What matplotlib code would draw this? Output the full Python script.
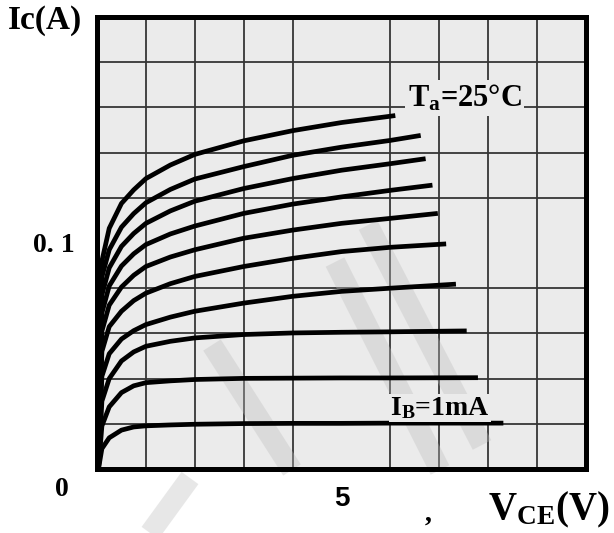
import matplotlib
matplotlib.use("Agg")
import matplotlib.pyplot as plt

plt.rcParams['mathtext.fontset'] = 'custom'
plt.rcParams['mathtext.rm'] = 'Liberation Serif:bold'
plt.rcParams['mathtext.bf'] = 'Liberation Serif:bold'
plt.rcParams['mathtext.it'] = 'Liberation Serif:bold'

# sample voltages (V), shared by all curves
vce = [0.03, 0.1, 0.25, 0.5, 0.75, 1, 1.5, 2, 3, 4, 5, 6]

# collector current (A) per base-current step, top curve first
ic_curves = [
    [0, 0.092, 0.1065, 0.1175, 0.1235, 0.1285, 0.1345, 0.1392, 0.1452, 0.1497, 0.1533, 0.1561],
    [0, 0.085, 0.0970, 0.1070, 0.1130, 0.1178, 0.1237, 0.1283, 0.1338, 0.1388, 0.1424, 0.1454],
    [0, 0.077, 0.0890, 0.0985, 0.1042, 0.1087, 0.1142, 0.1185, 0.1241, 0.1285, 0.1322, 0.1351],
    [0, 0.069, 0.0810, 0.0898, 0.0952, 0.0993, 0.1040, 0.1075, 0.1131, 0.1172, 0.1204, 0.1233],
    [0, 0.061, 0.0725, 0.0805, 0.0857, 0.0896, 0.0938, 0.0970, 0.1021, 0.1057, 0.1087, 0.1109],
    [0, 0.052, 0.0630, 0.0698, 0.0745, 0.0778, 0.0820, 0.0852, 0.0896, 0.0932, 0.0962, 0.0981],
    [0, 0.041, 0.0510, 0.0575, 0.0612, 0.0639, 0.0672, 0.0698, 0.0734, 0.0764, 0.0786, 0.0800],
    [0, 0.030, 0.0400, 0.0478, 0.0518, 0.0543, 0.0565, 0.0580, 0.0595, 0.0602, 0.0605, 0.0607],
    [0, 0.019, 0.0275, 0.0338, 0.0368, 0.0382, 0.0390, 0.0396, 0.0401, 0.0402, 0.0403, 0.0403],
    [0, 0.009, 0.0138, 0.0172, 0.0186, 0.0191, 0.0195, 0.0198, 0.0201, 0.0202, 0.0202, 0.0203],
]
# where each curve stops
end_v = [6.1, 6.62, 6.72, 6.86, 6.97, 7.14, 7.34, 7.56, 7.79, 8.31]
end_ic = [0.1564, 0.1476, 0.1373, 0.1256, 0.1131, 0.0996, 0.0818, 0.0611, 0.0404, 0.0203]

fig = plt.figure(figsize=(6.14, 5.33), dpi=100)
ax = fig.add_axes([97/614, 1-469/533, 489/614, 452/533])
ax.set_facecolor('#ebebeb')

for k in range(len(ic_curves)):
    ax.plot(vce + [end_v[k]], ic_curves[k] + [end_ic[k]], color='black', lw=3.4,
            solid_joinstyle='round', solid_capstyle='butt', zorder=4)

ax.set_xlim(0, 10)
ax.set_ylim(0, 0.2)
ax.set_xticks([i for i in range(11)], minor=True)
ax.set_yticks([i*0.02 for i in range(11)], minor=True)
ax.grid(which='minor', color='#363636', lw=1.3, zorder=1)
ax.set_axisbelow(True)
ax.set_xticks([5])
ax.set_xticklabels(['5'], fontfamily='Liberation Sans', fontweight='bold', fontsize=20)
ax.set_yticks([0.1])
ax.set_yticklabels(['0. 1'], fontfamily='Liberation Serif', fontweight='bold', fontsize=20)
ax.tick_params(which='both', length=0)
ax.tick_params(axis='x', pad=12)
ax.tick_params(axis='y', pad=16)
for s in ax.spines.values():
    s.set_linewidth(3.6)
    s.set_color('black')

# faint watermark strokes (figure pixels), under the curves
def px(x, y):
    return x/614, 1-y/533
for (x0, y0), (x1, y1) in [((212, 345), (292, 470)), ((335, 262), (440, 470)),
                           ((368, 225), (482, 445)), ((150, 533), (190, 478))]:
    a, b = px(x0, y0)
    c, d = px(x1, y1)
    ax.plot([a, c], [b, d], transform=fig.transFigure, color='#bdbdbd', lw=15,
            alpha=0.35, solid_capstyle='butt', zorder=2, clip_on=False)

ax.text(6.35, 0.164, r'$\mathrm{T_a}$=25°C', fontsize=22, fontfamily='Liberation Serif',
        fontweight='bold', va='center', ha='left', zorder=5,
        bbox=dict(facecolor='#ebebeb', edgecolor='none', pad=2))
ax.text(6.0, 0.027, r'$\mathrm{I_B}$=1mA', fontsize=20, fontfamily='Liberation Serif',
        fontweight='bold', va='center', ha='left', zorder=5,
        bbox=dict(facecolor='#ebebeb', edgecolor='none', pad=1))

fig.text(8/614, 1-21/533, 'Ic(A)', fontsize=24, fontfamily='Liberation Serif',
         fontweight='bold', va='center', ha='left')
fig.text(62/614, 1-489/533, '0', fontsize=20, fontfamily='Liberation Serif',
         fontweight='bold', va='center', ha='center')
fig.text(428/614, 1-514/533, ',', fontsize=20, fontfamily='Liberation Serif',
         fontweight='bold', va='center', ha='center')
fig.text(488/614, 1-510/533, r'$\mathrm{V_{CE}(V)}$', fontsize=28, va='center', ha='left')

fig.savefig('out.png', dpi=100)
